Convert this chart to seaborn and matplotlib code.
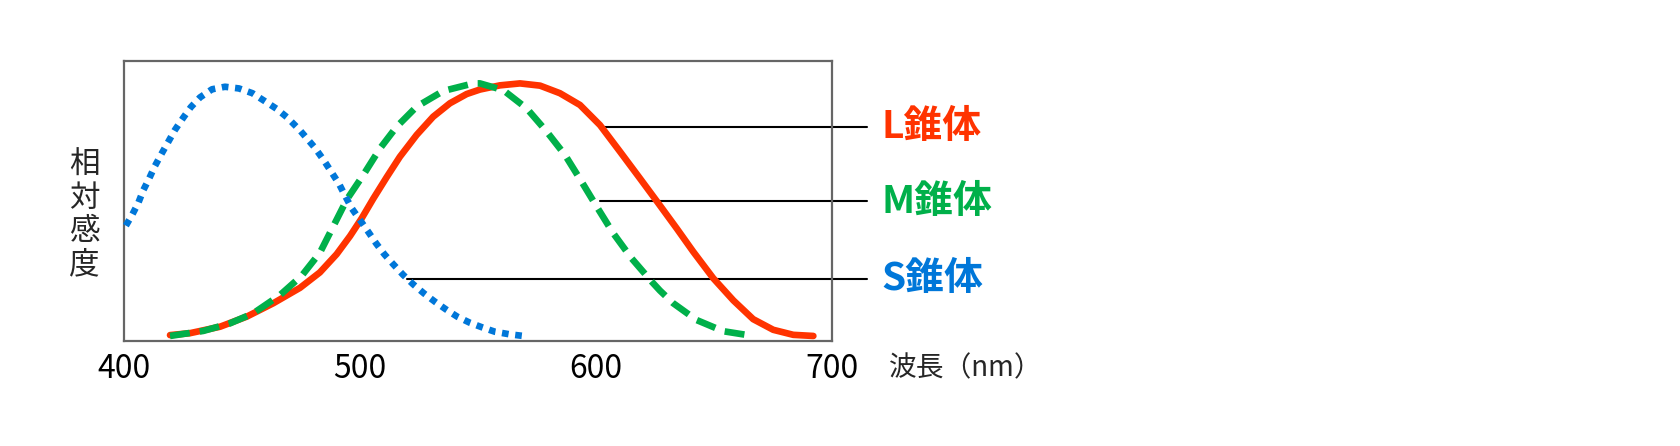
import matplotlib
matplotlib.use("Agg")
import matplotlib.pyplot as plt
import seaborn as sns

sns.set_theme(style="white")
plt.rcParams['font.family'] = ['Noto Sans CJK JP', 'DejaVu Sans']

# ---- data ----
l_nm  = [419.5, 428, 440.7, 452, 463.3, 474.6, 483, 490.1, 495.8, 500.7, 505.6, 511.3,
         516.9, 524, 531, 538.1, 545.2, 550.8, 559.3, 567.8, 576.3, 584.7, 593.2, 601.7,
         610.2, 618.6, 626.4, 634.2, 641.2, 649.7, 658.2, 666.6, 675.1, 683.6, 692.1]
l_val = [0.021, 0.028, 0.051, 0.087, 0.135, 0.190, 0.245, 0.310, 0.375, 0.438, 0.508, 0.585,
         0.658, 0.736, 0.801, 0.849, 0.882, 0.898, 0.913, 0.920, 0.912, 0.885, 0.843, 0.771,
         0.676, 0.581, 0.492, 0.402, 0.319, 0.224, 0.145, 0.078, 0.040, 0.022, 0.018]

m_nm  = [419.5, 433.6, 444.9, 454.8, 466.1, 475.3, 483, 488.7, 494.4, 501.4, 508.5, 515.5,
         524, 535.3, 548, 550.8, 560.7, 570.6, 579.1, 586.9, 593.9, 600.3, 607.3, 615.1,
         623.6, 627.1, 632.7, 642.6, 653.9, 666.6]
m_val = [0.018, 0.036, 0.063, 0.099, 0.164, 0.233, 0.315, 0.410, 0.505, 0.593, 0.688, 0.765,
         0.837, 0.893, 0.920, 0.920, 0.896, 0.831, 0.748, 0.664, 0.569, 0.480, 0.385, 0.295,
         0.212, 0.180, 0.135, 0.075, 0.035, 0.018]

s_nm  = [400.8, 403.3, 406.1, 408.2, 410.7, 413.1, 416, 418.8, 421.6, 424.9, 428.3, 432.2,
         437.3, 442.8, 448.7, 454.4, 459.4, 464.7, 469.2, 474.6, 480.9, 484.7, 488, 491.2,
         493.6, 496.5, 500, 503.5, 506.8, 510.3, 514.1, 518.3, 522.6, 527.1, 531.8, 536.4,
         541.2, 546.6, 552, 557.2, 563.3, 569.2]
s_val = [0.412, 0.448, 0.494, 0.539, 0.581, 0.625, 0.670, 0.712, 0.754, 0.795, 0.835, 0.870,
         0.899, 0.908, 0.902, 0.885, 0.858, 0.829, 0.798, 0.752, 0.690, 0.645, 0.602, 0.560,
         0.520, 0.474, 0.432, 0.390, 0.349, 0.310, 0.274, 0.236, 0.202, 0.170, 0.140, 0.113,
         0.087, 0.065, 0.048, 0.033, 0.024, 0.018]

x_ticks = [400, 500, 600, 700]
y_label = "相対感度"
x_label = "波長（nm）"
cone_labels = ["L錐体", "M錐体", "S錐体"]
# leader-line anchors: start wavelength, end wavelength, level
leader_start = [601.7, 601.7, 520.0]
leader_end   = [714.8, 714.8, 714.8]
leader_level = [0.765, 0.500, 0.223]

RED, GREEN, BLUE = "#FF3300", "#00B04A", "#0077D9"
colors = [RED, GREEN, BLUE]

fig = plt.figure(figsize=(16.8, 4.46), dpi=100)
ax = fig.add_axes([124/1680, 105/446, 708/1680, 280/446])

lw = 4.8
sns.lineplot(x=l_nm, y=l_val, ax=ax, color=RED, lw=lw, solid_capstyle="round",
             clip_on=False, zorder=3)
sns.lineplot(x=m_nm, y=m_val, ax=ax, color=GREEN, lw=lw, clip_on=False, zorder=4)
ax.lines[-1].set_dashes((3.0, 1.5))
ax.lines[-1].set_dash_capstyle("butt")
sns.lineplot(x=s_nm, y=s_val, ax=ax, color=BLUE, lw=lw, clip_on=False, zorder=5)
ax.lines[-1].set_dashes((1.0, 1.0))
ax.lines[-1].set_dash_capstyle("butt")

for x0, x1, yv in zip(leader_start, leader_end, leader_level):
    ax.plot([x0, x1], [yv, yv], color="black", lw=1.5, clip_on=False, zorder=2)

for lab, col, x1, yv in zip(cone_labels, colors, leader_end, leader_level):
    ax.text(x1 + 6.0, yv, lab, color=col, fontsize=28, fontweight="bold",
            va="center", ha="left")

ax.set_xlim(400, 700)
ax.set_ylim(0, 1)
ax.set_xticks(x_ticks)
ax.set_xticklabels([str(t) for t in x_ticks], fontsize=23)
ax.set_yticks([])
ax.tick_params(axis="x", length=0, pad=9, colors="black")
ax.set_xlabel("")
ax.set_ylabel("")
for sp in ax.spines.values():
    sp.set_color("#666666")
    sp.set_linewidth(1.6)

ax.text(-0.0556, 0.45, "\n".join(y_label), transform=ax.transAxes, fontsize=22,
        ha="center", va="center", linespacing=1.09)
fig.text(889/1680, (446-368)/446, x_label, fontsize=20, ha="left", va="center")

fig.savefig("out.png", dpi=100, facecolor="white")
